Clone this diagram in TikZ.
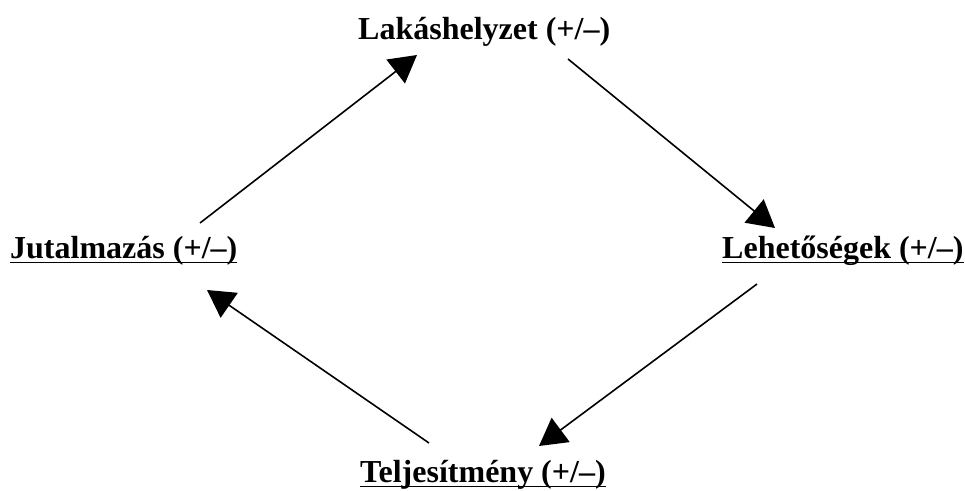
\documentclass[tikz,border=0pt]{standalone}
\usepackage{fontspec}
\setmainfont{Liberation Serif}
\usetikzlibrary{arrows.meta}
\tikzset{
  lbl/.style={anchor=base west, inner sep=0pt, font=\fontsize{32}{38}\selectfont\bfseries},
  ulline/.style={line width=1.8pt},
  conn/.style={line width=1.6pt, -{Triangle[length=27pt,width=30pt]}}
}
\begin{document}
\begin{tikzpicture}[x=1pt,y=-1pt]
\useasboundingbox (0,0) rectangle (965,490);
\node[lbl] (L) at (358,39) {Lakáshelyzet (+/–)};
\node[lbl] (J) at (10,258) {Jutalmazás (+/–)};
\node[lbl] (H) at (722,258) {Lehetőségek (+/–)};
\node[lbl] (T) at (360,482) {Teljesítmény (+/–)};
\foreach \n in {J,H,T}{
  \draw[ulline] ([yshift=-4.5pt]\n.base west) -- ([yshift=-4.5pt]\n.base east);
}
\coordinate (a1) at (200,223);
\coordinate (b1) at (417,55);
\coordinate (a2) at (568,59);
\coordinate (b2) at (775,228);
\coordinate (a3) at (757,284);
\coordinate (b3) at (539,446);
\coordinate (a4) at (429,443);
\coordinate (b4) at (207,290);
\draw[conn] (a1) -- (b1);
\draw[conn] (a2) -- (b2);
\draw[conn] (a3) -- (b3);
\draw[conn] (a4) -- (b4);
\end{tikzpicture}
\end{document}
